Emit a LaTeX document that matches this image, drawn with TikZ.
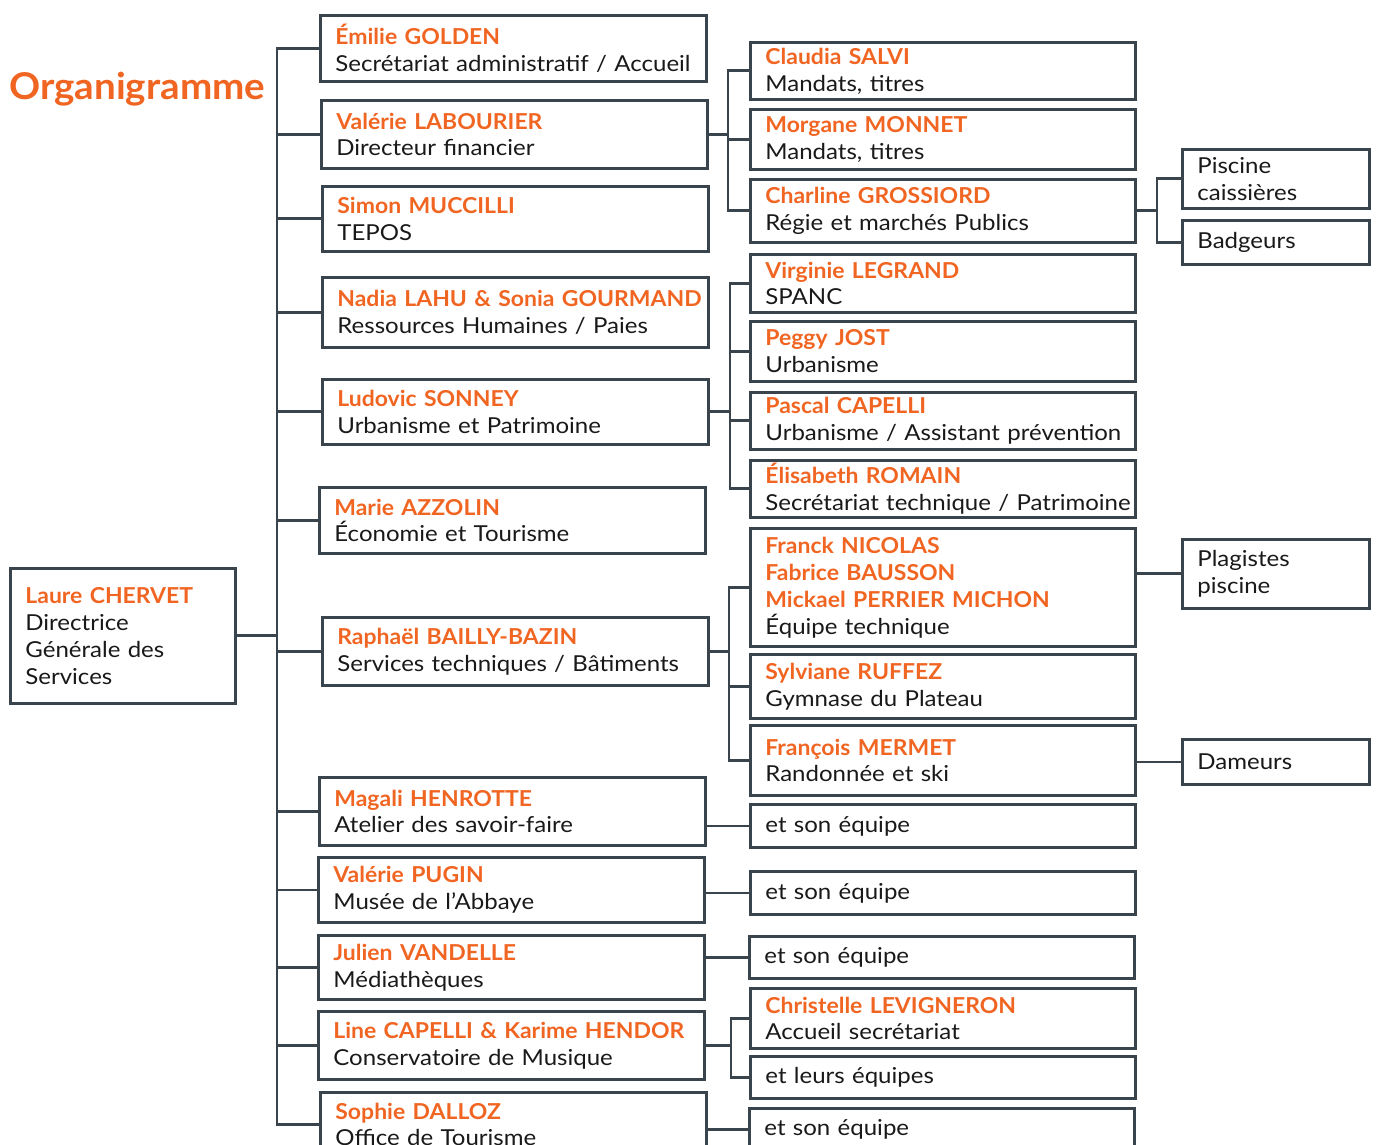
\documentclass[tikz,border=0pt]{standalone}
\usepackage{fontspec}
\setmainfont{Lato}[FakeStretch=1.094, BoldFeatures={FakeStretch=1.046}]

\definecolor{orga}{RGB}{241,101,34}
\definecolor{trait}{RGB}{58,68,76}
\newlength{\px}
\setlength{\px}{0.02cm}
\newcommand{\nom}[1]{\mbox{\color{orga}\bfseries #1}}
\newcommand{\fiche}[2]{\nom{#1}\\\mbox{#2}}

\tikzset{
	boite/.style={draw=trait, line width=1.6pt, anchor=north west, align=left, inner xsep=15\px, inner ysep=0pt, text=black!90, font=\fontsize{12.5}{15.3}\selectfont},
	gauche/.style={boite, minimum width=386\px, text width=356\px},
	droite/.style={boite, minimum width=385\px, text width=355\px},
	petit/.style={boite, minimum width=187\px, text width=157\px},
	lien/.style={draw=trait, line width=1.6pt},
}

\begin{document}
\begin{tikzpicture}[x=0.02cm, y=-0.02cm]
		\useasboundingbox (0,0) rectangle (1377,1145);

		\node[anchor=west, inner sep=0pt, text=orga, font=\fontsize{21}{25}\selectfont\bfseries] (titre) at (9,89) {Organigramme};

		\node[boite, minimum width=225\px, text width=195\px, minimum height=135\px] (dgs) at (9,567) {\nom{Laure CHERVET}\\Directrice\\Générale des\\Services};

		\node[gauche, minimum height=66\px] (golden) at (319,14) {\fiche{Émilie GOLDEN}{Secrétariat administratif / Accueil}};
		\node[gauche, minimum height=68\px] (labourier) at (320,99) {\fiche{Valérie LABOURIER}{Directeur financier}};
		\node[gauche, minimum height=65\px] (muccilli) at (321,185) {\fiche{Simon MUCCILLI}{TEPOS}};
		\node[gauche, minimum height=70\px] (lahu) at (321,276) {\fiche{Nadia LAHU \& Sonia GOURMAND}{Ressources Humaines / Paies}};
		\node[gauche, minimum height=65\px] (sonney) at (321,378) {\fiche{Ludovic SONNEY}{Urbanisme et Patrimoine}};
		\node[gauche, minimum height=66\px] (azzolin) at (318,486) {\fiche{Marie AZZOLIN}{Économie et Tourisme}};
		\node[gauche, minimum height=68\px] (bailly) at (321,616) {\fiche{Raphaël BAILLY-BAZIN}{Services techniques / Bâtiments}};
		\node[gauche, minimum height=68\px] (henrotte) at (318,776) {\fiche{Magali HENROTTE}{Atelier des savoir-faire}};
		\node[gauche, minimum height=65\px] (pugin) at (317,856) {\fiche{Valérie PUGIN}{Musée de l’Abbaye}};
		\node[gauche, minimum height=64\px] (vandelle) at (317,934) {\fiche{Julien VANDELLE}{Médiathèques}};
		\node[gauche, minimum height=68\px] (capelli) at (317,1010) {\fiche{Line CAPELLI \& Karime HENDOR}{Conservatoire de Musique}};
		\node[gauche, minimum height=64\px] (dalloz) at (319,1091) {\fiche{Sophie DALLOZ}{Office de Tourisme}};

		\node[droite, minimum height=57\px] (salvi) at (749,41) {\fiche{Claudia SALVI}{Mandats, titres}};
		\node[droite, minimum height=60\px] (monnet) at (749,108) {\fiche{Morgane MONNET}{Mandats, titres}};
		\node[droite, minimum height=63\px] (grossiord) at (749,178) {\fiche{Charline GROSSIORD}{Régie et marchés Publics}};
		\node[droite, minimum height=58\px] (legrand) at (749,253) {\fiche{Virginie LEGRAND}{SPANC}};
		\node[droite, minimum height=60\px] (jost) at (749,320) {\fiche{Peggy JOST}{Urbanisme}};
		\node[droite, minimum height=57\px] (capellip) at (749,391) {\fiche{Pascal CAPELLI}{Urbanisme / Assistant prévention}};
		\node[droite, minimum height=57\px] (romain) at (749,459) {\fiche{Élisabeth ROMAIN}{Secrétariat technique / Patrimoine}};
		\node[droite, minimum height=118\px] (nicolas) at (749,527) {\nom{Franck NICOLAS}\\\nom{Fabrice BAUSSON}\\\nom{Mickael PERRIER MICHON}\\Équipe technique};
		\node[droite, minimum height=64\px] (ruffez) at (749,653) {\fiche{Sylviane RUFFEZ}{Gymnase du Plateau}};
		\node[droite, minimum height=70\px] (mermet) at (749,724) {\fiche{François MERMET}{Randonnée et ski}};
		\node[droite, minimum height=43\px] (equipe1) at (749,803) {et son équipe};
		\node[droite, minimum height=43\px] (equipe2) at (749,870) {et son équipe};
		\node[droite, minimum height=42\px] (equipe3) at (748,935) {et son équipe};
		\node[droite, minimum height=60\px] (levigneron) at (749,987) {\fiche{Christelle LEVIGNERON}{Accueil secrétariat}};
		\node[droite, minimum height=42\px] (equipes) at (749,1055) {et leurs équipes};
		\node[droite, minimum height=42\px] (equipe4) at (748,1107) {et son équipe};

		\node[petit, minimum height=59\px] (piscine) at (1181,148) {Piscine\\caissières};
		\node[petit, minimum height=44\px] (badgeurs) at (1181,219) {Badgeurs};
		\node[petit, minimum height=69\px] (plagistes) at (1181,538) {Plagistes\\piscine};
		\node[petit, minimum height=45\px] (dameurs) at (1181,738) {Dameurs};

		\coordinate (tronc) at (277,0);
		\coordinate (fin) at (728,0);
		\coordinate (urba) at (730,0);
		\coordinate (tech) at (729,0);
		\coordinate (musi) at (731,0);
		\coordinate (regie) at (1157,0);

		\draw[lien] (golden.west) -- (tronc |- golden.west) -- (tronc |- dalloz.west) -- (dalloz.west);
		\draw[lien] (dgs.east) -- (tronc |- dgs.east);
		\draw[lien] (tronc |- labourier.west) -- (labourier.west);
		\draw[lien] (tronc |- muccilli.west) -- (muccilli.west);
		\draw[lien] (tronc |- lahu.west) -- (lahu.west);
		\draw[lien] (tronc |- sonney.west) -- (sonney.west);
		\draw[lien] (tronc |- azzolin.west) -- (azzolin.west);
		\draw[lien] (tronc |- bailly.west) -- (bailly.west);
		\draw[lien] (tronc |- henrotte.west) -- (henrotte.west);
		\draw[lien] (tronc |- pugin.west) -- (pugin.west);
		\draw[lien] (tronc |- vandelle.west) -- (vandelle.west);
		\draw[lien] (tronc |- capelli.west) -- (capelli.west);

		\draw[lien] (salvi.west) -- (fin |- salvi.west) -- (fin |- grossiord.west) -- (grossiord.west);
		\draw[lien] (labourier.east) -- (fin |- labourier.east);
		\draw[lien] (fin |- monnet.west) -- (monnet.west);

		\draw[lien] (piscine.west) -- (regie |- piscine.west) -- (regie |- badgeurs.west) -- (badgeurs.west);
		\draw[lien] (grossiord.east) -- (regie |- grossiord.east);

		\draw[lien] (legrand.west) -- (urba |- legrand.west) -- (urba |- romain.west) -- (romain.west);
		\draw[lien] (sonney.east) -- (urba |- sonney.east);
		\draw[lien] (urba |- jost.west) -- (jost.west);
		\draw[lien] (urba |- capellip.west) -- (capellip.west);

		\draw[lien] (nicolas.west) -- (tech |- nicolas.west) -- (tech |- mermet.west) -- (mermet.west);
		\draw[lien] (bailly.east) -- (tech |- bailly.east);
		\draw[lien] (tech |- ruffez.west) -- (ruffez.west);
		\draw[lien] (nicolas.east |- plagistes.west) -- (plagistes.west);
		\draw[lien] (mermet.east |- dameurs.west) -- (dameurs.west);

		\draw[lien] (henrotte.east |- equipe1.west) -- (equipe1.west);
		\draw[lien] (pugin.east |- equipe2.west) -- (equipe2.west);
		\draw[lien] (vandelle.east |- equipe3.west) -- (equipe3.west);

		\draw[lien] (levigneron.west) -- (musi |- levigneron.west) -- (musi |- equipes.west) -- (equipes.west);
		\draw[lien] (capelli.east) -- (musi |- capelli.east);
		\draw[lien] (dalloz.east |- equipe4.west) -- (equipe4.west);
	\end{tikzpicture}
\end{document}
